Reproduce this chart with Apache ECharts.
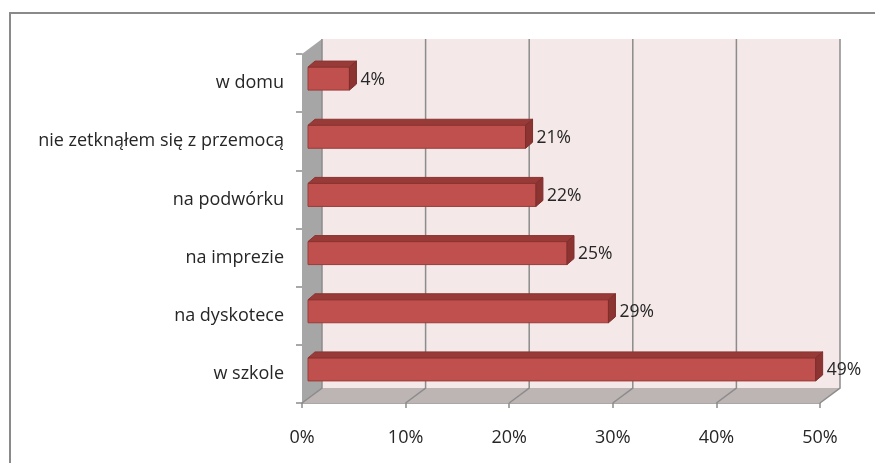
<!DOCTYPE html>
<html>
<head>
<meta charset="utf-8">
<script src="https://cdn.jsdelivr.net/npm/echarts@6/dist/echarts.min.js"></script>
<style>
  html, body { margin: 0; padding: 0; background: #fff; }
  #frame { position: absolute; left: 9px; top: 12px; width: 900px; height: 500px; border-left: 2px solid #8a8a8a; border-top: 2px solid #8a8a8a; }
  #chart { position: absolute; left: 0; top: 0; width: 875px; height: 463px; }
</style>
</head>
<body>
<div id="frame"></div>
<div id="chart"></div>
<script>
const categories = ["w domu", "nie zetknąłem się z przemocą", "na podwórku", "na imprezie", "na dyskotece", "w szkole"];
const values = [4, 21, 22, 25, 29, 49];
const tickValues = [0, 10, 20, 30, 40, 50];

const DEPTH_X = 20;
const DEPTH_Y = -15;
const FONT = "'Open Sans', sans-serif";

const chart = echarts.init(document.getElementById("chart"));

function renderWalls(params, api) {
  const cs = params.coordSys;
  const x = cs.x, y = cs.y, w = cs.width, h = cs.height;
  const b = y + h;
  const children = [];
  // back wall
  children.push({
    type: "polygon",
    shape: { points: [[x + DEPTH_X, y + DEPTH_Y], [x + w + DEPTH_X, y + DEPTH_Y], [x + w + DEPTH_X, b + DEPTH_Y], [x + DEPTH_X, b + DEPTH_Y]] },
    style: { fill: "#f4e8e8" },
  });
  // left wall
  children.push({
    type: "polygon",
    shape: { points: [[x, y], [x + DEPTH_X, y + DEPTH_Y], [x + DEPTH_X, b + DEPTH_Y], [x, b]] },
    style: { fill: "#a6a6a6" },
  });
  // floor
  children.push({
    type: "polygon",
    shape: { points: [[x, b], [x + DEPTH_X, b + DEPTH_Y], [x + w + DEPTH_X, b + DEPTH_Y], [x + w, b]] },
    style: { fill: "#bdb4b4" },
  });
  tickValues.forEach((v) => {
    const px = api.coord([v, 0])[0];
    children.push({
      type: "polyline",
      shape: { points: [[px, b], [px + DEPTH_X, b + DEPTH_Y], [px + DEPTH_X, y + DEPTH_Y]] },
      style: { stroke: "#8c8c8c", lineWidth: 1.5, fill: null },
    });
  });
  return { type: "group", children };
}

function renderBar(params, api) {
  const v = api.value(0);
  const idx = api.value(1);
  const base = api.coord([0, idx]);
  const end = api.coord([v, idx]);
  const x0 = base[0] + 6;
  const x1 = end[0] + 6;
  const yc = base[1] - 4.5;
  const hh = 11.5;
  const dx = 7, dy = -6;
  return {
    type: "group",
    children: [
      {
        type: "rect",
        shape: { x: x0, y: yc - hh, width: x1 - x0, height: hh * 2 },
        style: { fill: "#c0504d", stroke: "#9a3b38", lineWidth: 1 },
      },
      {
        type: "polygon",
        shape: { points: [[x0, yc - hh], [x0 + dx, yc - hh + dy], [x1 + dx, yc - hh + dy], [x1, yc - hh]] },
        style: { fill: "#983a37", stroke: "#8a3431", lineWidth: 1 },
      },
      {
        type: "polygon",
        shape: { points: [[x1, yc - hh], [x1 + dx, yc - hh + dy], [x1 + dx, yc + hh + dy], [x1, yc + hh]] },
        style: { fill: "#8c3432", stroke: "#7e2e2c", lineWidth: 1 },
      },
      {
        type: "text",
        style: {
          x: x1 + 11, y: yc + 1, text: v + "%",
          fill: "#262626", font: "17.5px " + FONT,
          align: "left", verticalAlign: "middle",
        },
      },
    ],
  };
}

chart.setOption({
  animation: false,
  grid: { left: 302, right: 55, top: 54, bottom: 60 },
  xAxis: {
    type: "value",
    min: 0,
    max: 50,
    interval: 10,
    axisLine: { show: true, lineStyle: { color: "#8c8c8c", width: 1.5 } },
    axisTick: { show: true, length: 5, lineStyle: { color: "#8c8c8c", width: 1.5 } },
    splitLine: { show: false },
    axisLabel: { formatter: "{value}%", color: "#262626", fontSize: 18, fontFamily: FONT, margin: 26 },
  },
  yAxis: {
    type: "category",
    inverse: true,
    data: categories,
    axisLine: { show: true, lineStyle: { color: "#9a9a9a", width: 1 } },
    axisTick: { show: true, length: 6, lineStyle: { color: "#8c8c8c", width: 1.5 } },
    axisLabel: { color: "#262626", fontSize: 18, fontFamily: FONT, margin: 18 },
  },
  series: [
    {
      type: "custom",
      renderItem: renderWalls,
      data: [[0, 0]],
      z: 1,
      silent: true,
    },
    {
      type: "custom",
      renderItem: renderBar,
      data: values.map((v, i) => [v, i]),
      z: 3,
    },
  ],
});
</script>
</body>
</html>
